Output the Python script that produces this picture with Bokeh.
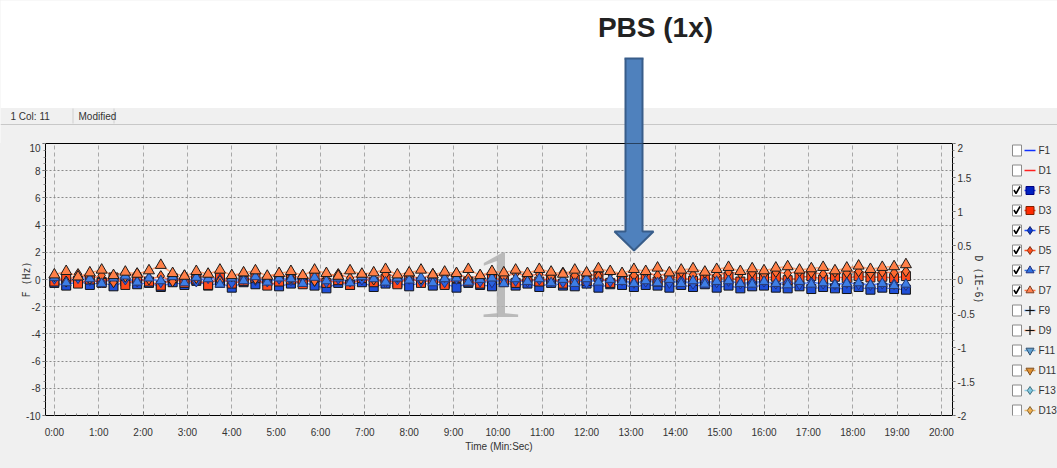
import math
from bokeh.plotting import figure
from bokeh.models import Range1d, LinearAxis, FixedTicker, PolyAnnotation
from bokeh.layouts import row, column
from bokeh.embed import file_html
from bokeh.resources import INLINE
from bokeh.core.properties import value

# ---------------- data ----------------
time_s = [0, 16, 32, 48, 64, 80, 96, 112, 128, 144,
          160, 176, 192, 208, 224, 240, 256, 272, 288, 304,
          320, 336, 352, 368, 384, 400, 416, 432, 448, 464,
          480, 496, 512, 528, 544, 560, 576, 592, 608, 624,
          640, 656, 672, 688, 704, 720, 736, 752, 768, 784,
          800, 816, 832, 848, 864, 880, 896, 912, 928, 944,
          960, 976, 992, 1008, 1024, 1040, 1056, 1072, 1088, 1104,
          1120, 1136, 1152]

F3 = [-0.25, -0.45, -0.10, -0.40, -0.20, -0.50, -0.15, -0.35, -0.25, -0.55,
      -0.20, -0.40, -0.10, -0.45, -0.25, -0.60, -0.20, -0.35, -0.15, -0.50,
      -0.30, -0.20, -0.45, -0.65, -0.25, -0.40, -0.20, -0.55, -0.30, -0.25,
      -0.50, -0.20, -0.45, -0.30, -0.60, -0.25, -0.40, -0.50, -0.20, -0.45,
      -0.30, -0.55, -0.25, -0.45, -0.50, -0.30, -0.60, -0.35, -0.40, -0.55,
      -0.40, -0.45, -0.60, -0.40, -0.55, -0.35, -0.60, -0.45, -0.65, -0.50,
      -0.45, -0.60, -0.65, -0.50, -0.70, -0.55, -0.65, -0.70, -0.55, -0.75,
      -0.60, -0.70, -0.75]
F5 = [0.05, -0.15, 0.10, -0.05, -0.20, 0.05, 0.00, -0.15, 0.10, -0.20,
      0.00, 0.05, -0.15, 0.10, 0.00, -0.25, 0.05, -0.05, -0.15, 0.05,
      -0.05, 0.10, -0.10, -0.20, 0.05, -0.15, 0.00, 0.05, -0.20, 0.00,
      0.05, -0.15, 0.00, -0.20, 0.05, -0.05, -0.15, -0.20, 0.00, -0.10,
      -0.15, 0.00, -0.10, -0.20, -0.05, -0.25, 0.00, -0.15, -0.05, -0.25,
      -0.15, -0.05, -0.25, -0.10, -0.30, -0.15, -0.20, -0.10, -0.30, -0.20,
      -0.15, -0.30, -0.20, -0.35, -0.20, -0.30, -0.35, -0.25, -0.35, -0.40,
      -0.30, -0.35, -0.40]
F7 = [0.15, -0.25, 0.20, 0.05, -0.30, 0.10, 0.25, -0.20, 0.10, -0.10,
      0.20, -0.25, 0.15, 0.05, -0.35, 0.10, -0.10, 0.20, -0.20, 0.10,
      0.05, -0.30, 0.15, -0.10, 0.10, -0.25, 0.20, 0.05, -0.20, 0.10,
      -0.05, 0.15, -0.25, 0.05, 0.10, -0.20, 0.00, 0.10, -0.30, 0.05,
      -0.15, 0.05, -0.25, 0.00, -0.30, 0.05, -0.20, 0.00, -0.15, -0.30,
      -0.10, -0.25, 0.00, -0.30, -0.10, -0.35, -0.15, -0.10, -0.30, -0.35,
      -0.15, -0.30, -0.40, -0.15, -0.35, -0.25, -0.40, -0.30, -0.25, -0.40,
      -0.30, -0.45, -0.35]
D3 = [-0.03, 0.02, -0.06, 0.00, -0.05, 0.03, -0.08, 0.01, -0.03, -0.09,
      0.02, -0.05, 0.00, -0.08, 0.03, -0.06, -0.02, 0.02, -0.09, -0.03,
      0.00, -0.07, 0.03, -0.05, -0.01, -0.08, 0.02, -0.04, 0.01, -0.07,
      0.03, -0.05, 0.00, -0.08, 0.02, -0.03, -0.06, 0.03, -0.02, -0.05,
      0.02, -0.03, 0.03, -0.06, 0.00, -0.02, 0.04, -0.05, 0.02, 0.00,
      0.03, -0.03, 0.02, 0.04, -0.02, 0.03, 0.00, 0.04, -0.03, 0.03,
      0.02, 0.04, -0.01, 0.03, 0.05, 0.00, 0.04, 0.02, 0.05, 0.03,
      0.04, 0.02, 0.05]
D5 = [0.05, -0.03, 0.08, 0.01, 0.06, -0.04, 0.04, 0.09, 0.00, 0.05,
      -0.03, 0.06, 0.02, 0.08, -0.02, 0.05, 0.09, 0.01, 0.04, 0.08,
      0.02, 0.06, -0.02, 0.05, 0.08, 0.02, 0.06, 0.00, 0.08, 0.04,
      0.06, 0.01, 0.08, 0.04, 0.09, 0.02, 0.06, 0.08, 0.04, 0.09,
      0.05, 0.08, 0.04, 0.10, 0.06, 0.09, 0.05, 0.10, 0.07, 0.06,
      0.10, 0.06, 0.09, 0.11, 0.07, 0.10, 0.06, 0.11, 0.09, 0.10,
      0.08, 0.11, 0.09, 0.12, 0.10, 0.08, 0.11, 0.10, 0.12, 0.09,
      0.11, 0.10, 0.12]
D7 = [0.07, 0.12, 0.04, 0.10, 0.14, 0.06, 0.11, 0.08, 0.13, 0.21,
      0.09, 0.05, 0.12, 0.08, 0.14, 0.06, 0.10, 0.13, 0.05, 0.09,
      0.12, 0.06, 0.14, 0.09, 0.05, 0.13, 0.08, 0.10, 0.15, 0.07,
      0.10, 0.14, 0.07, 0.11, 0.09, 0.15, 0.06, 0.12, 0.10, 0.14,
      0.09, 0.15, 0.11, 0.08, 0.14, 0.10, 0.16, 0.12, 0.09, 0.15,
      0.12, 0.17, 0.10, 0.14, 0.16, 0.11, 0.15, 0.18, 0.12, 0.16,
      0.13, 0.17, 0.19, 0.14, 0.16, 0.18, 0.13, 0.17, 0.20, 0.15,
      0.18, 0.19, 0.22]

x_ticks = list(range(0, 21))
f_ticks = [-10, -8, -6, -4, -2, 0, 2, 4, 6, 8, 10]
d_ticks = [-2, -1.5, -1, -0.5, 0, 0.5, 1, 1.5, 2]

legend_labels = ["F1", "D1", "F3", "D3", "F5", "D5", "F7", "D7", "F9", "D9", "F11", "D11", "F13", "D13"]
legend_checked = [False, False, True, True, True, True, True, True, False, False, False, False, False, False]
legend_markers = [None, None, "square", "square", "diamond", "diamond", "triangle", "triangle",
                  "cross", "cross", "inverted_triangle", "inverted_triangle", "diamond", "diamond"]
legend_line_colors = ["#1030ff", "#ff2020", "#2040ff", "#ff3010", "#2050ff", "#ff5020", "#3070e0", "#ff7040",
                      "#5090e0", "#ff9050", "#70b0e0", "#e0a050", "#90d0e8", "#f0c070"]
legend_fill_colors = ["#1030ff", "#ff2020", "#0020c0", "#ff2a00", "#1040d0", "#ff5020", "#3070e0", "#ff8050",
                      "#000000", "#000000", "#60a0d0", "#e09030", "#80c8e0", "#f0b050"]
legend_edge_colors = ["#000080", "#802000", "#000080", "#802000", "#102070", "#803010", "#203080", "#804020",
                      "#111111", "#111111", "#305070", "#805020", "#407080", "#806030"]

# ---------------- layout geometry (page pixels) ----------------
W, H = 1057, 468
TOP_H = 143                      # white header + status strip
BOT_H = 3                        # bottom status border
FL, FR, FT, FB = 45, 952, 143, 415
XMIN, XMAX = -0.2, 20.25
MAIN_W = 990
GRAY = "#f0f0f0"
FONT = "Liberation Sans"


def X(px):
    return XMIN + (px - FL) * (XMAX - XMIN) / (FR - FL)


def Y(py):
    return 10 - (py - FT) * 20.0 / (FB - FT)


# ---------------- header figure ----------------
top = figure(width=W, height=TOP_H, x_range=Range1d(0, W), y_range=Range1d(TOP_H, 0),
             x_axis_type=None, y_axis_type=None, min_border=0, toolbar_location=None,
             output_backend="svg", background_fill_color="white", border_fill_color="white",
             outline_line_color=None)
top.grid.visible = False
top.quad(left=[0], right=[W], top=[107.5], bottom=[TOP_H + 1], fill_color=GRAY, line_alpha=0)
top.quad(left=[0], right=[W], top=[123.5], bottom=[124.5], fill_color="#c8c8c8", line_alpha=0)
top.quad(left=[72, 113], right=[73, 114], top=[108, 108], bottom=[123, 123], fill_color="#d0d0d0", line_alpha=0)
top.text(x=[10, 78], y=[116, 116], text=["1  Col:  11", "Modified"], text_font=value(FONT),
         text_font_size="10px", text_color="#333333", text_baseline="middle")
top.text(x=[655], y=[27], text=["PBS (1x)"], text_font=value(FONT), text_font_style="bold",
         text_font_size="28px", text_color="#222222", text_align="center", text_baseline="middle")
top.patch(x=[625, 642, 642, 625], y=[58, 58, TOP_H + 2, TOP_H + 2], fill_color="#4F81BD", line_alpha=0)
top.multi_line(xs=[[625, 625], [642, 642], [624, 643]], ys=[[58, TOP_H + 2], [58, TOP_H + 2], [58, 58]],
               line_color="#385D8A", line_width=2)

# ---------------- main chart ----------------
BOTTOM_BORDER = H - BOT_H - FB
p = figure(frame_width=FR - FL, frame_height=FB - FT,
           min_border_left=FL, min_border_right=MAIN_W - FR, min_border_top=0, min_border_bottom=BOTTOM_BORDER,
           x_range=Range1d(XMIN, XMAX), y_range=Range1d(-10, 10),
           output_backend="svg", toolbar_location=None,
           background_fill_color=GRAY, border_fill_color=GRAY,
           outline_line_color="black", outline_line_width=1)
p.extra_y_ranges = {"D": Range1d(-2, 2)}


def style_axis(ax):
    ax.major_label_text_font = FONT
    ax.major_label_text_font_size = "10px"
    ax.major_label_text_color = "#333333"
    ax.axis_line_color = "black"
    ax.major_tick_line_color = "#555555"
    ax.minor_tick_line_color = "#888888"
    ax.axis_label_text_font = "DejaVu Sans Mono"
    ax.axis_label_text_font_size = "10px"
    ax.axis_label_text_font_style = "normal"
    ax.axis_label_text_color = "#333333"


xa = p.xaxis[0]
style_axis(xa)
xa.ticker = FixedTicker(ticks=x_ticks, minor_ticks=[i * 0.25 for i in range(81)])
xa.major_label_overrides = {t: f"{t}:00" for t in x_ticks}
xa.major_tick_in = 4
xa.major_tick_out = 0
xa.minor_tick_in = 2
xa.minor_tick_out = 0
xa.major_label_standoff = 11
xa.axis_label = "Time (Min:Sec)"
xa.axis_label_text_font = FONT
xa.axis_label_standoff = 0

ya = p.yaxis[0]
style_axis(ya)
ya.ticker = FixedTicker(ticks=f_ticks, minor_ticks=[i * 0.5 - 10 for i in range(41)])
ya.major_label_overrides = {t: str(t) for t in f_ticks}
ya.major_tick_in = 0
ya.major_tick_out = 3
ya.minor_tick_in = 0
ya.minor_tick_out = 2
ya.major_label_standoff = 2
ya.axis_label = "F (Hz)"
ya.axis_label_standoff = -9

ra = LinearAxis(y_range_name="D")
style_axis(ra)
ra.ticker = FixedTicker(ticks=d_ticks, minor_ticks=[i * 0.1 - 2 for i in range(41)])
ra.major_label_overrides = {(int(t) if float(t).is_integer() else t): (str(int(t)) if float(t).is_integer() else str(t))
                            for t in d_ticks}
ra.major_tick_in = 0
ra.major_tick_out = 3
ra.minor_tick_in = 0
ra.minor_tick_out = 2
ra.major_label_standoff = 2
ra.axis_label = "D (1E-6)"
ra.axis_label_standoff = -5
p.add_layout(ra, "right")

p.xgrid.ticker = FixedTicker(ticks=x_ticks)
p.xgrid.grid_line_color = "#a8a8a8"
p.xgrid.grid_line_dash = "4 3"
p.ygrid.ticker = FixedTicker(ticks=f_ticks)
p.ygrid.grid_line_color = "#8a8a8a"
p.ygrid.grid_line_dash = "2 2"

xs = [s / 60.0 for s in time_s]

# large grey "1" event marker (behind the data)
p.text(x=[X(499)], y=[Y(284)], text=["1"], text_font=value("Liberation Serif"), text_font_size="98px",
       text_color="#b0b0b0", text_alpha=0.85, text_align="center", text_baseline="middle")

p.line(xs, F3, line_color="#2050ff", line_width=1.2, line_alpha=0.8)
p.line(xs, F5, line_color="#3a6cff", line_width=1.2, line_alpha=0.8)
p.line(xs, F7, line_color="#5a8aff", line_width=1.2, line_alpha=0.8)
p.line(xs, D3, y_range_name="D", line_color="#ff3a10", line_width=1.5, line_alpha=0.75)
p.line(xs, D5, y_range_name="D", line_color="#ff6030", line_width=1.5, line_alpha=0.75)
p.line(xs, D7, y_range_name="D", line_color="#ff8a50", line_width=1.5, line_alpha=0.75)

p.scatter(xs, F3, marker="square", size=9, fill_color="#1f4fd8", line_color="#111111", line_width=1)
p.scatter(xs, D3, y_range_name="D", marker="square", size=9, fill_color="#ff4a1a", line_color="#1a1a1a", line_width=1)
p.scatter(xs, F5, marker="diamond", size=11, fill_color="#2a62e0", line_color="#203080", line_width=1)
p.scatter(xs, D5, y_range_name="D", marker="diamond", size=11, fill_color="#ff6a30", line_color="#1a1a1a", line_width=1)
p.scatter(xs, F7, marker="triangle", size=10, fill_color="#3d7ee6", line_color="#2a3a70", line_width=1)
p.scatter(xs, D7, y_range_name="D", marker="triangle", size=11, fill_color="#ff8048", line_color="#1a1a1a", line_width=1)

# lower part of the arrow (inside the chart frame)
ax_px = [625, 642, 642, 653, 633.5, 614, 625]
ay_px = [140, 140, 231, 231, 250, 231, 231]
p.add_layout(PolyAnnotation(xs=[X(v) for v in ax_px], ys=[Y(v) for v in ay_px],
                            fill_color="#4F81BD", fill_alpha=1, line_color="#385D8A", line_width=2, line_alpha=1))

# ---------------- legend panel ----------------
LW = W - MAIN_W
lg = figure(frame_width=LW, frame_height=FB - FT, min_border_left=0, min_border_right=0,
            min_border_top=0, min_border_bottom=BOTTOM_BORDER,
            x_range=Range1d(MAIN_W, W), y_range=Range1d(FB, FT),
            x_axis_type=None, y_axis_type=None, toolbar_location=None, output_backend="svg",
            background_fill_color=GRAY, border_fill_color=GRAY, outline_line_color=None)
lg.grid.visible = False

n = len(legend_labels)
row_y = [150 + 20.0 * i for i in range(n)]
CBX, SMX, LBX = 1016.5, 1029.5, 1038
lg.rect(x=[CBX] * n, y=row_y, width=9, height=11, fill_color="white", line_color="#8a8a8a", line_width=1)
chk_x = [[CBX - 3, CBX - 1, CBX + 3] for y, c in zip(row_y, legend_checked) if c]
chk_y = [[y - 0.5, y + 3, y - 4] for y, c in zip(row_y, legend_checked) if c]
lg.multi_line(chk_x, chk_y, line_color="black", line_width=1.6)
lg.segment(x0=[SMX - 5.5] * n, y0=row_y, x1=[SMX + 5.5] * n, y1=row_y, line_color=legend_line_colors, line_width=1.3)
for y, m, fc, ec in zip(row_y, legend_markers, legend_fill_colors, legend_edge_colors):
    if m is None:
        continue
    if m == "cross":
        lg.scatter([SMX], [y], marker="cross", size=9, line_color=ec, line_width=1.2)
    else:
        lg.scatter([SMX], [y], marker=m, size=8, fill_color=fc, line_color=ec, line_width=1)
lg.text(x=[LBX] * n, y=row_y, text=legend_labels, text_font=value(FONT), text_font_size="10px",
        text_color="#333333", text_baseline="middle")

# ---------------- bottom border strip ----------------
bot = figure(width=W, height=BOT_H, x_range=Range1d(0, W), y_range=Range1d(BOT_H, 0),
             x_axis_type=None, y_axis_type=None, min_border=0, toolbar_location=None,
             output_backend="svg", background_fill_color=GRAY, border_fill_color=GRAY,
             outline_line_color=None)
bot.grid.visible = False
bot.quad(left=[0], right=[W], top=[1], bottom=[2], fill_color="#a8a8a8", line_alpha=0)

layout = column(top, row(p, lg, styles={"background-color": GRAY}), bot, styles={"background-color": GRAY})
open("out.html", "w").write(file_html(layout, INLINE))
